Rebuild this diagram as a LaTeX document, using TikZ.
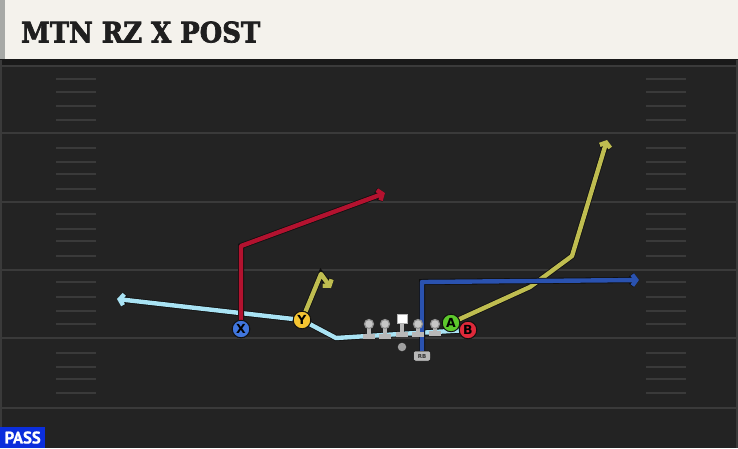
\documentclass[tikz,border=0pt]{standalone}
\usepackage{fontspec}
\usepackage{graphicx}
\usepackage{xcolor}
\usetikzlibrary{arrows.meta,positioning,calc}
\newfontfamily\titlefont{DejaVu Serif}[BoldFeatures={FakeBold=2.5}]
\newfontfamily\tagfont{PT Sans}[BoldFeatures={FakeBold=1}]
\newfontfamily\markfont{DejaVu Sans}
\definecolor{fieldbg}{HTML}{232323}
\definecolor{yardline}{HTML}{3A3A3A}
\definecolor{headbg}{HTML}{F4F2EC}
\definecolor{headedge}{HTML}{A7A9A6}
\definecolor{passblue}{HTML}{0B2EDC}
\definecolor{motionblue}{HTML}{A9E3F4}
\definecolor{postred}{HTML}{B3122F}
\definecolor{olive}{HTML}{BFBD50}
\definecolor{flatblue}{HTML}{2A52B0}
\definecolor{xblue}{HTML}{4076DE}
\definecolor{yyellow}{HTML}{F4C431}
\definecolor{agreen}{HTML}{5DC82C}
\definecolor{bred}{HTML}{E0293A}
\definecolor{linegray}{HTML}{B8B8B8}
\definecolor{routeedge}{HTML}{101010}

\begin{document}
\begin{tikzpicture}[x=1pt, y=-1pt]
  \tikzstyle{player}=[circle, draw=routeedge, line width=0.9pt, minimum size=17.5pt, inner sep=0pt, font=\markfont\bfseries\fontsize{12.5}{12.5}\selectfont]
  \tikzstyle{route}=[line width=4.4pt, line join=round, -{Straight Barb[length=4pt,width=11pt]}, preaction={draw=routeedge, line width=6pt}]
  \tikzstyle{hash}=[draw=yardline, line width=1.3pt]
  \tikzstyle{lineman}=[circle, draw=gray!85, fill=linegray!80, line width=1.2pt, minimum size=9pt, inner sep=0pt]

  % Campo
  \fill[fieldbg] (0,0) rectangle (738,448);
  \useasboundingbox (0,0) rectangle (738,448);
  \fill[black!90] (0,58) rectangle (738,65);
  \foreach \yy in {66,132.7,201.7,270,338,408}
    \draw[yardline, line width=1.8pt] (0,\yy) -- (738,\yy);
  \foreach \yy in {79,92,106,120,148,162,174,189,214,229,241,256,282,297,311,324,353,367,379,393} {
    \draw[hash] (56,\yy) -- (96,\yy);
    \draw[hash] (646,\yy) -- (686,\yy);
  }
  \draw[yardline, line width=2pt] (1,60) -- (1,448);
  \draw[yardline, line width=2pt] (737,60) -- (737,448);

  % Cabecera
  \fill[headbg] (0,0) rectangle (738,59);
  \fill[headedge] (0,0) rectangle (5,59);
  \node[anchor=south west, inner sep=0pt, text=black!88] (title) at (21,43) {\resizebox{239pt}{21pt}{\titlefont\bfseries MTN RZ X POST}};
  \node[fill=passblue, text=white, anchor=south west, minimum width=45pt, minimum height=20.5pt, inner sep=0pt] (pass) at (0,448) {\resizebox{36pt}{12pt}{\tagfont\bfseries PASS}};

  % Jugadores
  \node[player, fill=xblue] (x) at (241,329) {X};
  \node[player, fill=yyellow] (y) at (302,320) {Y};
  \node[player, fill=agreen] (a) at (451,323) {A};
  \node[player, fill=bred] (b) at (468,330) {B};
  \node[circle, fill=gray!75, minimum size=8.5pt, inner sep=0pt] (qb) at (402,347) {};
  \node[rectangle, rounded corners=2pt, fill=linegray, draw=routeedge, line width=0.5pt, minimum width=17pt, minimum height=10pt, inner sep=0pt, font=\markfont\bfseries\fontsize{5.5}{5.5}\selectfont, text=black!80] (rb) at (422,356) {RB};

  % Rutas
  \coordinate (m0) at (400,334);
  \coordinate (m1) at (336,338);
  \coordinate (m2) at (117,299);
  \coordinate (r1) at (241,246);
  \coordinate (r2) at (385,193);
  \coordinate (y1) at (321,274);
  \coordinate (y2) at (331,288);
  \coordinate (a1) at (530,287);
  \coordinate (a2) at (572,256);
  \coordinate (a3) at (607,140);
  \coordinate (f1) at (422,282);
  \coordinate (f2) at (639,280);
  \draw[route, motionblue] (b) -- (m0) -- (m1) -- (y) -- (m2);
  \draw[route, postred] (x) -- (r1) -- (r2);
  \draw[route, olive] (y) -- (y1) -- (y2);
  \draw[route, olive] (a) -- (a1) -- (a2) -- (a3);
  \draw[route, flatblue] (rb) -- (f1) -- (f2);

  % Linea
  \foreach \name/\xx/\yy in {lt/369/336, lg/385/335.5, rg/418/334, rt/435/333} {
    \fill[linegray] (\xx-2,324) rectangle (\xx+2,\yy);
    \fill[linegray] (\xx-6,\yy-2) rectangle (\xx+6,\yy+3);
    \node[lineman] (\name) at (\xx,324) {};
  }
  \fill[linegray] (399.8,320) rectangle (404.2,334.5);
  \fill[linegray] (396,332) rectangle (408,337);
  \node[rectangle, fill=white, draw=gray!60, minimum width=10pt, minimum height=9pt, inner sep=0pt] (c) at (402,318.5) {};

  % Jugadores encima
  \node[player, fill=xblue] at (x) {X};
  \node[player, fill=yyellow] at (y) {Y};
  \node[player, fill=agreen] at (a) {A};
  \node[player, fill=bred] at (b) {B};
\end{tikzpicture}
\end{document}
